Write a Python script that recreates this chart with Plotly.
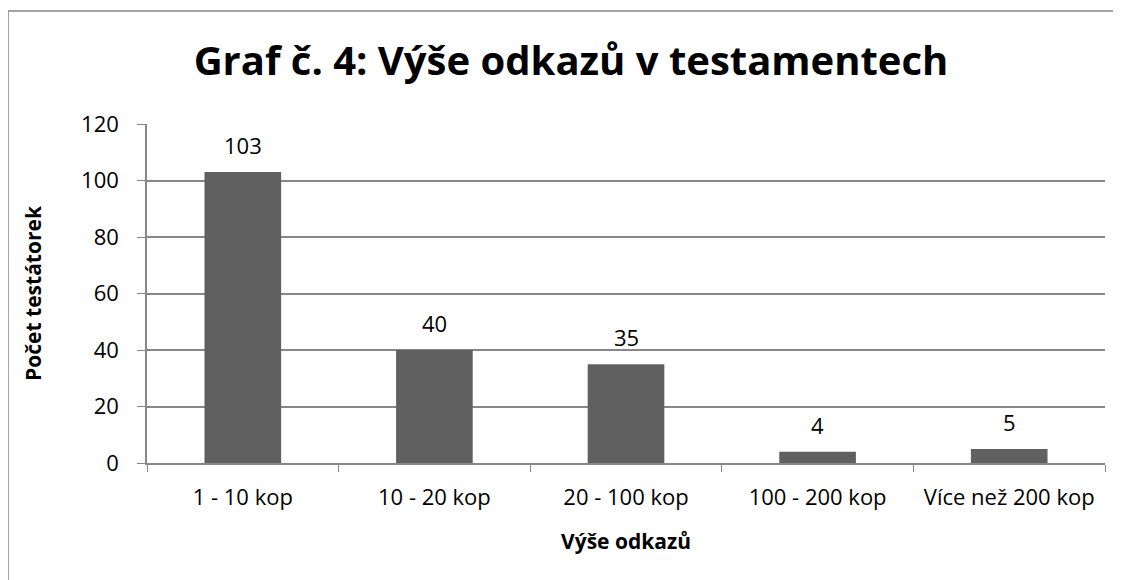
import plotly.graph_objects as go

# data
categories = ["1 - 10 kop", "10 - 20 kop", "20 - 100 kop", "100 - 200 kop", "Více než 200 kop"]
counts = [103, 40, 35, 4, 5]
y_ticks = [0, 20, 40, 60, 80, 100, 120]

FONT = "Open Sans, Lato, sans-serif"
BAR = "#606060"
GRID = "#878787"
TEXT = "#000000"

# page has an 8px body margin, so figure coords = page coords - 8
OFF = 8
W, H = 1121, 580
L = 147 - OFF
T = 124 - OFF
R = W - (1105 - OFF)
B = H - (463 - OFF)
pw, ph = W - L - R, H - T - B

fig = go.Figure()
fig.add_trace(go.Bar(
    x=categories,
    y=counts,
    width=0.4,
    marker=dict(color=BAR, line=dict(width=0)),
    hoverinfo="x+y",
))

# value labels sit well above the bars, as in Excel
for c, v in zip(categories, counts):
    fig.add_annotation(
        x=c, y=v, text=str(v),
        showarrow=False, yanchor="bottom", yshift=10,
        font=dict(size=22, color=TEXT, family=FONT),
    )

fig.update_xaxes(
    type="category",
    tickson="boundaries",
    ticks="outside",
    ticklen=7,
    tickcolor=GRID,
    showline=True,
    linecolor=GRID,
    linewidth=1.5,
    showgrid=False,
    ticklabelstandoff=14,
    tickfont=dict(size=22, color=TEXT, family=FONT),
    title=dict(text="<b>Výše odkazů</b>", font=dict(size=21, color=TEXT, family=FONT), standoff=24),
)
fig.update_yaxes(
    range=[0, 120],
    tickvals=y_ticks,
    ticks="outside",
    ticklen=8,
    tickcolor=GRID,
    showline=True,
    linecolor=GRID,
    linewidth=1.5,
    showgrid=True,
    gridcolor=GRID,
    gridwidth=1.5,
    zeroline=False,
    ticklabelstandoff=14,
    tickfont=dict(size=22, color=TEXT, family=FONT),
    title=dict(text="<b>Počet testátorek</b>", font=dict(size=21, color=TEXT, family=FONT), standoff=34),
)

# chart border (Excel-like frame, running off the right and bottom edges)
fig.add_shape(
    type="rect", xref="paper", yref="paper",
    x0=(8 - OFF - L) / pw, x1=(W + 10 - L) / pw,
    y0=(H - B - (H + 10)) / ph, y1=(H - B - (11 - OFF)) / ph,
    line=dict(color=GRID, width=1.5),
    fillcolor="rgba(0,0,0,0)",
    layer="below",
)

fig.update_layout(
    width=W, height=H,
    margin=dict(l=L, r=R, t=T, b=B),
    paper_bgcolor="white",
    plot_bgcolor="white",
    showlegend=False,
    font=dict(family=FONT, color=TEXT),
    title=dict(
        text="<b>Graf č. 4: Výše odkazů v testamentech</b>",
        x=(571 - OFF) / W, xanchor="center",
        y=1 - (61 - OFF) / H, yanchor="middle",
        font=dict(size=40, color=TEXT, family=FONT),
    ),
)

fig.write_html("out.html")
